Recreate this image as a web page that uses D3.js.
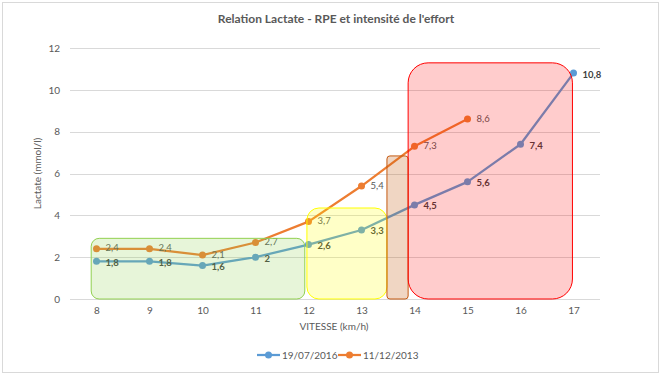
<!DOCTYPE html>
<html>
<head>
<meta charset="utf-8">
<script src="https://cdn.jsdelivr.net/npm/d3@7"></script>
<style>
  body { margin: 0; background: #fff; }
  text { font-family: Lato, "Open Sans", sans-serif; }
</style>
</head>
<body>
<div id="chart"></div>
<script>
const speeds = [8, 9, 10, 11, 12, 13, 14, 15, 16, 17];
const yTicks = [0, 2, 4, 6, 8, 10, 12];
const seriesNames = ["19/07/2016", "11/12/2013"];
const lactate2016 = [1.8, 1.8, 1.6, 2, 2.6, 3.3, 4.5, 5.6, 7.4, 10.8];
const lactate2013 = [2.4, 2.4, 2.1, 2.7, 3.7, 5.4, 7.3, 8.6];
// zones in data units: speed from/to, lactate top
const zoneFrom = [7.9, 11.97, 13.48, 13.88];
const zoneTo = [11.93, 13.48, 13.88, 16.98];
const zoneTop = [2.9, 4.35, 6.84, 11.29];

const width = 662, height = 376;
const margin = { left: 70, right: 62, top: 48, bottom: 77 };

const svg = d3.select("#chart").append("svg")
    .attr("width", width)
    .attr("height", height);

svg.append("rect")
    .attr("x", 2.5).attr("y", 2.5)
    .attr("width", 656).attr("height", 370)
    .attr("fill", "#fff")
    .attr("stroke", "#d9d9d9");

const x = d3.scalePoint()
    .domain(speeds)
    .range([margin.left, width - margin.right])
    .padding(0.5);

const y = d3.scaleLinear()
    .domain([0, 12])
    .range([height - margin.bottom, margin.top]);

// gridlines
svg.append("g")
    .selectAll("line")
    .data(yTicks)
    .enter()
    .append("line")
    .attr("x1", margin.left)
    .attr("x2", width - margin.right)
    .attr("y1", d => Math.round(y(d)) + 0.5)
    .attr("y2", d => Math.round(y(d)) + 0.5)
    .attr("stroke", "#d9d9d9");

const yAxis = d3.axisLeft(y).tickValues(yTicks).tickSize(0).tickPadding(10);
svg.append("g")
    .attr("transform", "translate(" + margin.left + ",0)")
    .call(yAxis)
    .call(g => g.select(".domain").remove())
    .call(g => g.selectAll("text").attr("fill", "#595959").attr("font-size", 10).attr("font-family", "Lato"));

const xAxis = d3.axisBottom(x).tickSize(0).tickPadding(8);
svg.append("g")
    .attr("transform", "translate(0," + y(0) + ")")
    .call(xAxis)
    .call(g => g.select(".domain").remove())
    .call(g => g.selectAll("text").attr("fill", "#595959").attr("font-size", 10).attr("font-family", "Lato"));

svg.append("text")
    .attr("x", 336).attr("y", 23)
    .attr("text-anchor", "middle")
    .attr("font-size", 12)
    .attr("font-weight", "bold")
    .attr("fill", "#595959")
    .text("Relation Lactate - RPE et intensité de l'effort");

svg.append("text")
    .attr("transform", "translate(41," + y(6) + ") rotate(-90)")
    .attr("text-anchor", "middle")
    .attr("font-size", 10)
    .attr("fill", "#595959")
    .text("Lactate (mmol/l)");

svg.append("text")
    .attr("x", 334).attr("y", 330)
    .attr("text-anchor", "middle")
    .attr("font-size", 10)
    .attr("fill", "#595959")
    .text("VITESSE (km/h)");

const fmt = v => String(v).replace(".", ",");
const colors = ["#5b9bd5", "#ed7d31"];
const seriesData = [lactate2016, lactate2013].map(vals => vals.map((v, i) => ({ s: speeds[i], v })));

const line = d3.line().x(d => x(d.s)).y(d => y(d.v));

seriesData.forEach((data, k) => {
    const g = svg.append("g");
    g.append("path")
        .datum(data)
        .attr("d", line)
        .attr("fill", "none")
        .attr("stroke", colors[k])
        .attr("stroke-width", 2.25)
        .attr("stroke-linejoin", "round");
    g.selectAll("circle")
        .data(data)
        .enter()
        .append("circle")
        .attr("cx", d => x(d.s))
        .attr("cy", d => y(d.v))
        .attr("r", 3.5)
        .attr("fill", colors[k]);
    g.selectAll("text")
        .data(data)
        .enter()
        .append("text")
        .attr("x", d => x(d.s) + 9)
        .attr("y", d => y(d.v) + (k === 0 ? 4.5 : 2.5))
        .attr("font-size", 9.5)
        .attr("font-weight", k === 0 ? "bold" : "normal")
        .attr("fill", k === 0 ? "#404040" : "#595959")
        .text(d => fmt(d.v));
});

// zones drawn over the lines
const zoneFill = ["rgba(146,208,80,0.22)", "rgba(255,255,0,0.22)", "rgba(197,90,17,0.25)", "rgba(255,0,0,0.2)"];
const zoneStroke = ["#92d050", "#ffff00", "#c55a11", "#ff0000"];
const zoneRadius = [8, 12, 3, 20];
svg.append("g")
    .selectAll("rect")
    .data(zoneFrom.map((f, i) => ({ f, t: zoneTo[i], top: zoneTop[i], i })))
    .enter()
    .append("rect")
    .attr("x", d => x(8) + (d.f - 8) * x.step())
    .attr("width", d => (d.t - d.f) * x.step())
    .attr("y", d => y(d.top))
    .attr("height", d => y(0) - y(d.top))
    .attr("rx", d => zoneRadius[d.i])
    .attr("fill", d => zoneFill[d.i])
    .attr("stroke", d => zoneStroke[d.i])
    .attr("stroke-width", 1);

// legend
const legend = svg.append("g").attr("transform", "translate(257,355)");
seriesNames.forEach((name, k) => {
    const lg = legend.append("g").attr("transform", "translate(" + (k * 81) + ",0)");
    lg.append("line").attr("x1", 0).attr("x2", 23).attr("y1", 0).attr("y2", 0)
        .attr("stroke", colors[k]).attr("stroke-width", 2.25);
    lg.append("circle").attr("cx", 11.5).attr("cy", 0).attr("r", 3.5).attr("fill", colors[k]);
    lg.append("text").attr("x", 25).attr("y", 3.5)
        .attr("font-size", 10).attr("fill", "#595959").text(name);
});
</script>
</body>
</html>
